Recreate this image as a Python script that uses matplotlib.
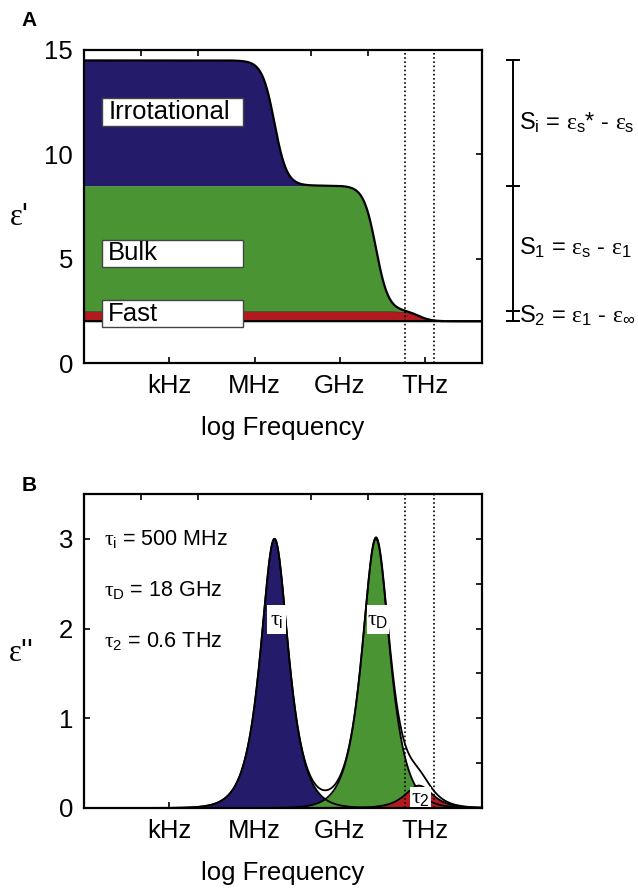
import numpy as np
import matplotlib.pyplot as plt
from matplotlib.patches import Rectangle
import matplotlib.transforms as mtransforms

plt.rcParams['font.family'] = ['Liberation Sans', 'DejaVu Sans']
plt.rcParams['mathtext.fontset'] = 'custom'
plt.rcParams['mathtext.rm'] = 'Liberation Sans'
plt.rcParams['mathtext.it'] = 'Liberation Serif'

# relaxation processes (peak position, log10 Hz)
names = ['Irrotational', 'Bulk', 'Fast']
peak_logf = [6.7, 10.27, 11.78]
strength = [6.0, 6.0, 0.5]
eps_inf = 2.0
colors = ['#241b6b', '#4a9433', '#b21a1f']
tau_sub = ['i', 'D', '2']
tau_freq = ['500 MHz', '18 GHz', '0.6 THz']

freq_ticks = [3, 6, 9, 12]
freq_labels = ['kHz', 'MHz', 'GHz', 'THz']
top_ticks = [2, 4, 6, 8, 10, 12]
thz_window = [11.3, 12.3]

lf = np.linspace(0, 14, 1400)


def debye(k):
    r = 10 ** (lf - peak_logf[k])
    return strength[k] / (1 + r ** 2), strength[k] * r / (1 + r ** 2)


re = [debye(k)[0] for k in range(3)]
im = [debye(k)[1] for k in range(3)]

fig = plt.figure(figsize=(6.38, 8.88), dpi=100)
axA = fig.add_axes([0.1317, 0.5912, 0.6238, 0.3525])
axB = fig.add_axes([0.1317, 0.0901, 0.6238, 0.3536])


def style_axes(ax):
    for s in ax.spines.values():
        s.set_linewidth(1.6)
    ax.set_xlim(0, 14)
    ax.set_xticks(freq_ticks)
    ax.set_xticklabels(freq_labels)
    ax.set_xticks(top_ticks, minor=True)
    ax.tick_params(which='major', direction='in', length=4, width=1.2,
                   top=False, right=True, labelsize=18.5, pad=8)
    ax.tick_params(axis='x', which='minor', direction='in', length=4,
                   width=1.2, top=True, bottom=False)
    ax.set_xlabel('log Frequency', fontsize=18.5, labelpad=13)
    for x in thz_window:
        ax.axvline(x, color='k', ls=(0, (1, 1.5)), lw=1.2, zorder=6)


# ---- panel A: real part
base = eps_inf + re[2]
axA.fill_between(lf, eps_inf, base, color=colors[2], ec='#333333', lw=0.8, zorder=2)
axA.fill_between(lf, base, base + re[1], color=colors[1], lw=0, zorder=2)
axA.fill_between(lf, base + re[1], base + re[1] + re[0], color=colors[0], lw=0, zorder=2)
total = eps_inf + re[0] + re[1] + re[2]
axA.plot(lf[lf < 12.6], total[lf < 12.6], color='k', lw=1.6, zorder=4)
axA.axhline(eps_inf, color='k', lw=1.4, zorder=4)
axA.set_ylim(0, 15)
axA.set_yticks([0, 5, 10, 15])
style_axes(axA)

box_y = [(11.36, 12.7), (4.6, 5.9), (1.72, 3.02)]
for name, (y0, y1) in zip(names, box_y):
    axA.add_patch(Rectangle((0.63, y0), 4.97, y1 - y0, fc='white',
                            ec='#444444', lw=1, zorder=5))
    axA.text(0.85, (y0 + y1) / 2, name, fontsize=18.5, va='center', zorder=6)

# bracket on the right
trA = mtransforms.blended_transform_factory(axA.transAxes, axA.transData)
levels = [eps_inf + sum(strength), eps_inf + strength[1] + strength[2],
          eps_inf + strength[2], eps_inf]
axA.plot([1.078, 1.078], [levels[0], levels[-1]], color='k', lw=1.4,
         transform=trA, clip_on=False)
for y in levels:
    axA.plot([1.063, 1.093], [y, y], color='k', lw=1.4, transform=trA,
             clip_on=False)
eq = [r'S$_{\rm i}$ = $\epsilon_{\rm s}$* - $\epsilon_{\rm s}$',
      r'S$_{\rm 1}$ = $\epsilon_{\rm s}$ - $\epsilon_{\rm 1}$',
      r'S$_{\rm 2}$ = $\epsilon_{\rm 1}$ - $\epsilon_\infty$']
for k in range(3):
    ymid = (levels[k] + levels[k + 1]) / 2
    axA.text(1.093, ymid, eq[k], fontsize=17, va='center', transform=trA)

# ---- panel B: imaginary part
for k in range(3):
    axB.fill_between(lf, 0, im[k], color=colors[k], lw=0, zorder=2 + k * 0.1)
for k in range(3):
    axB.plot(lf, im[k], color='k', lw=1.3, zorder=4)
axB.plot(lf, im[0] + im[1] + im[2], color='k', lw=1.3, zorder=4)
axB.set_ylim(0, 3.5)
axB.set_yticks([0, 1, 2, 3])
axB.set_yticks(np.arange(0.5, 3.6, 0.5), minor=True)
style_axes(axB)
axB.tick_params(axis='y', which='minor', direction='in', length=4, width=1.2,
                left=False, right=True)

for k in range(3):
    axB.text(0.72, 3.0 - 0.57 * k,
             r'$\tau_{\rm %s}$ = %s' % (tau_sub[k], tau_freq[k]),
             fontsize=15.5, va='center')

tau_box = [(6.45, 7.1, 1.94, 2.26), (9.95, 10.72, 1.94, 2.26),
           (11.45, 12.2, 0.01, 0.23)]
for k, (x0, x1, y0, y1) in enumerate(tau_box):
    axB.add_patch(Rectangle((x0, y0), x1 - x0, y1 - y0, fc='white',
                            ec='none', zorder=7))
    axB.text((x0 + x1) / 2, (y0 + y1) / 2, r'$\tau_{\rm %s}$' % tau_sub[k],
             fontsize=16, ha='center', va='center', zorder=8)

fig.text(0.014, 0.756, r"$\epsilon$'", fontsize=22, va='center')
fig.text(0.012, 0.265, r"$\epsilon$''", fontsize=22, va='center')
fig.text(0.034, 0.977, 'A', fontsize=15, fontweight='bold', va='center')
fig.text(0.034, 0.453, 'B', fontsize=15, fontweight='bold', va='center')

fig.savefig('out.png', dpi=100)
